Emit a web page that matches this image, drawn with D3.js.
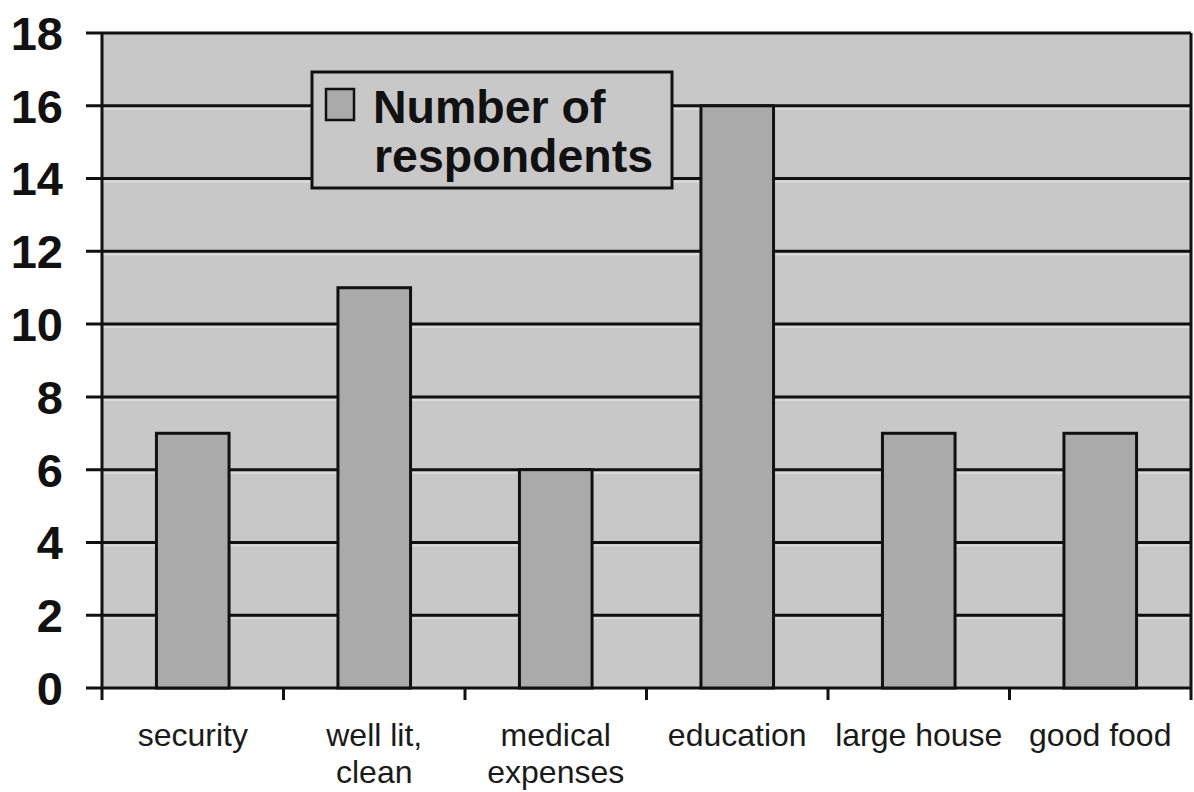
<!DOCTYPE html>
<html>
<head>
<meta charset="utf-8">
<script src="https://cdn.jsdelivr.net/npm/d3@7"></script>
<style>
  html, body { margin: 0; padding: 0; background: #fff; }
  svg { display: block; }
</style>
</head>
<body>
<svg id="chart" width="1194" height="792"></svg>
<script>
// Survey: what respondents value most
const categories = ["security", "well lit, clean", "medical expenses", "education", "large house", "good food"];
const categoryLines = [["security"], ["well lit,", "clean"], ["medical", "expenses"], ["education"], ["large house"], ["good food"]];
const respondents = [7, 11, 6, 16, 7, 7];
const yTicks = [0, 2, 4, 6, 8, 10, 12, 14, 16, 18];
const seriesName = ["Number of", "respondents"];

const svg = d3.select("#chart");
const plotLeft = 102, plotRight = 1191, plotTop = 33, plotBottom = 688;

const x = d3.scaleBand().domain(categories).range([plotLeft, plotRight])
  .paddingInner(0.6).paddingOuter(0.3);
const y = d3.scaleLinear().domain([0, 18]).range([plotBottom, plotTop]);

const bgFill = "#c8c8c8";
const barFill = "#aaaaaa";
const ink = "#111";

// plot background
svg.append("rect").attr("x", plotLeft).attr("y", plotTop)
  .attr("width", plotRight - plotLeft).attr("height", plotBottom - plotTop).attr("fill", bgFill);

// faint highlight under each gridline
svg.append("g").selectAll("line").data(yTicks.filter(d => d > 0 && d < 18)).join("line")
  .attr("x1", plotLeft).attr("x2", plotRight)
  .attr("y1", d => y(d) + 3).attr("y2", d => y(d) + 3)
  .attr("stroke", "#dcdcdc").attr("stroke-width", 2);

// gridlines with tick stubs on the left
svg.append("g").selectAll("line").data(yTicks).join("line")
  .attr("x1", plotLeft - 16).attr("x2", plotRight)
  .attr("y1", d => y(d)).attr("y2", d => y(d))
  .attr("stroke", ink).attr("stroke-width", 3);

// bars
svg.append("g").selectAll("rect").data(respondents).join("rect")
  .attr("x", (d, i) => x(categories[i]))
  .attr("y", d => y(d))
  .attr("width", x.bandwidth())
  .attr("height", d => y(0) - y(d))
  .attr("fill", barFill)
  .attr("stroke", ink).attr("stroke-width", 3);

// frame: left axis, right edge
svg.append("line").attr("x1", plotLeft).attr("x2", plotLeft).attr("y1", plotTop).attr("y2", plotBottom + 12)
  .attr("stroke", ink).attr("stroke-width", 3);
svg.append("line").attr("x1", plotRight).attr("x2", plotRight).attr("y1", plotTop).attr("y2", plotBottom + 12)
  .attr("stroke", ink).attr("stroke-width", 3);

// category boundary ticks below the axis
const bounds = d3.range(1, categories.length).map(i => plotLeft + i * x.step());
svg.append("g").selectAll("line").data(bounds).join("line")
  .attr("x1", d => d).attr("x2", d => d)
  .attr("y1", plotBottom).attr("y2", plotBottom + 12)
  .attr("stroke", ink).attr("stroke-width", 3);

// y-axis labels
svg.append("g").selectAll("text").data(yTicks).join("text")
  .attr("x", 63).attr("y", d => y(d))
  .attr("dy", "0.36em")
  .attr("text-anchor", "end")
  .attr("font-family", "Liberation Sans, Arial, sans-serif")
  .attr("font-weight", "bold").attr("font-size", 47)
  .attr("fill", ink)
  .text(d => d);

// category labels
const xl = svg.append("g").selectAll("text").data(categories).join("text")
  .attr("x", d => x(d) + x.bandwidth() / 2)
  .attr("y", 746)
  .attr("text-anchor", "middle")
  .attr("font-family", "Liberation Sans, Arial, sans-serif")
  .attr("font-size", 32)
  .attr("fill", "#1a1a1a");
xl.selectAll("tspan").data((d, i) => categoryLines[i]).join("tspan")
  .attr("x", function () { return this.parentNode.getAttribute("x"); })
  .attr("dy", (d, i) => i === 0 ? 0 : 37)
  .text(d => d);

// legend
const lg = svg.append("g");
lg.append("rect").attr("x", 312).attr("y", 72).attr("width", 360).attr("height", 116)
  .attr("fill", bgFill).attr("stroke", ink).attr("stroke-width", 3);
lg.append("rect").attr("x", 326).attr("y", 89).attr("width", 28).attr("height", 31)
  .attr("fill", barFill).attr("stroke", ink).attr("stroke-width", 2.5);
lg.append("text").attr("x", 373).attr("y", 123)
  .attr("font-family", "Liberation Sans, Arial, sans-serif")
  .attr("font-weight", "bold").attr("font-size", 46.5).attr("fill", ink)
  .text(seriesName[0]);
lg.append("text").attr("x", 374).attr("y", 172)
  .attr("font-family", "Liberation Sans, Arial, sans-serif")
  .attr("font-weight", "bold").attr("font-size", 46.5).attr("fill", ink)
  .text(seriesName[1]);
</script>
</body>
</html>
